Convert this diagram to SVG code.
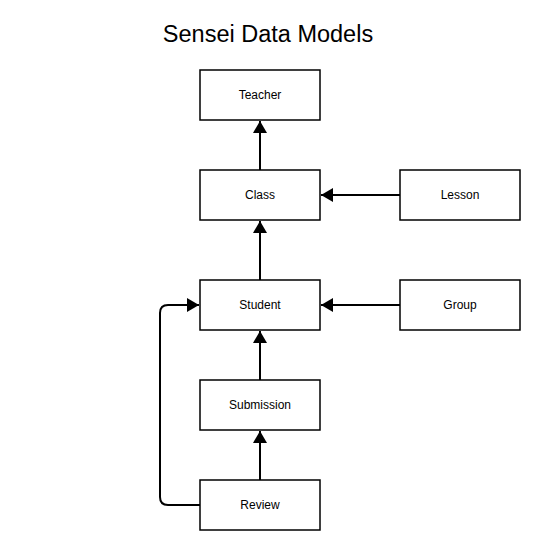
<svg xmlns="http://www.w3.org/2000/svg" width="540" height="550" viewBox="0 0 540 550">
<style>
.box{fill:#fff;stroke:#000;stroke-width:1.5}
.lbl{font-family:"Liberation Sans",Arial,sans-serif;font-size:12px;fill:#000;text-anchor:middle;dominant-baseline:central}
.edge{fill:none;stroke:#000;stroke-width:2}
</style>
<defs>
<marker id="arr" markerWidth="14" markerHeight="14" refX="12" refY="7" orient="auto" markerUnits="userSpaceOnUse">
<path d="M0,0 L12,7 L0,14 Z" fill="#000"/>
</marker>
</defs>
<rect width="540" height="550" fill="#fff"/>
<text x="268" y="42" font-family="'Liberation Sans',Arial,sans-serif" font-size="23.5" text-anchor="middle" fill="#000">Sensei Data Models</text>
<g id="connectors">
<path class="edge" d="M260,170 L260,121" marker-end="url(#arr)"/>
<path class="edge" d="M400,195 L321,195" marker-end="url(#arr)"/>
<path class="edge" d="M260,280 L260,221" marker-end="url(#arr)"/>
<path class="edge" d="M400,305 L321,305" marker-end="url(#arr)"/>
<path class="edge" d="M260,380 L260,331" marker-end="url(#arr)"/>
<path class="edge" d="M260,480 L260,431" marker-end="url(#arr)"/>
<path class="edge" d="M200,505 L168,505 Q160,505 160,497 L160,313 Q160,305 168,305 L199,305" marker-end="url(#arr)"/>
</g>
<g id="teacher"><rect class="box" x="200" y="70" width="120" height="50"/><text class="lbl" x="260" y="95">Teacher</text></g>
<g id="class"><rect class="box" x="200" y="170" width="120" height="50"/><text class="lbl" x="260" y="195">Class</text></g>
<g id="lesson"><rect class="box" x="400" y="170" width="120" height="50"/><text class="lbl" x="460" y="195">Lesson</text></g>
<g id="student"><rect class="box" x="200" y="280" width="120" height="50"/><text class="lbl" x="260" y="305">Student</text></g>
<g id="group"><rect class="box" x="400" y="280" width="120" height="50"/><text class="lbl" x="460" y="305">Group</text></g>
<g id="submission"><rect class="box" x="200" y="380" width="120" height="50"/><text class="lbl" x="260" y="405">Submission</text></g>
<g id="review"><rect class="box" x="200" y="480" width="120" height="50"/><text class="lbl" x="260" y="505">Review</text></g>
</svg>
